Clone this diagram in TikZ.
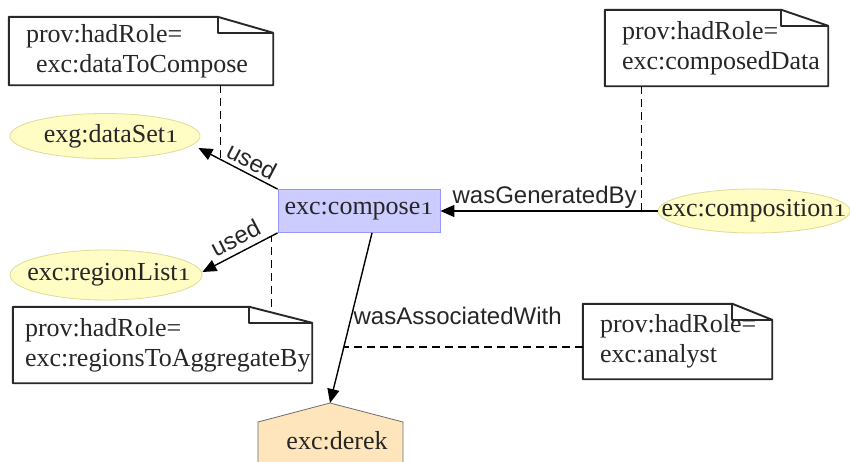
\documentclass[tikz,border=0pt]{standalone}
\usepackage{fontspec}
\setmainfont{Liberation Serif}
\newfontfamily\lblfont{Liberation Sans}
\usepackage{graphicx}
\usetikzlibrary{shapes.geometric,arrows.meta,calc}
\newcommand\osone{\scalebox{1}[0.68]{1}}
\definecolor{entfill}{RGB}{255,252,196}
\definecolor{entline}{RGB}{222,220,150}
\definecolor{actfill}{RGB}{204,204,255}
\definecolor{actline}{RGB}{150,150,255}
\definecolor{agfill}{RGB}{254,229,187}
\definecolor{agline}{RGB}{110,110,110}
\definecolor{notecol}{RGB}{40,40,40}
\begin{document}
\begin{tikzpicture}[x=1pt,y=-1pt,
  txt/.style={font=\fontsize{26}{30}\selectfont, text=black!85},
  ent/.style={ellipse, draw=entline, fill=entfill, line width=0.8pt, inner sep=0, txt},
  act/.style={rectangle, draw=actline, fill=actfill, line width=0.8pt, inner sep=0, txt, minimum width=162pt, minimum height=43pt},
  notebox/.style={rectangle, inner ysep=0, txt, align=left},
  noteline/.style={draw=notecol, line width=1.9pt, line join=round},
  rel/.style={draw=black, line width=1.4pt, -{Triangle[length=14pt,width=12pt]}},
  lab/.style={font=\lblfont\fontsize{24}{28}\selectfont, text=black!85, inner sep=1.5pt},
  link/.style={draw=black, line width=1.3pt, dash pattern=on 8pt off 5pt}]

\useasboundingbox (0,0) rectangle (850,461);

% notes
\node[notebox, minimum width=264pt, minimum height=68pt, inner xsep=17pt, text width=230pt] (n1) at (141,51)
  {\mbox{prov:hadRole=}\\\mbox{\hspace*{10pt}exc:dataToCompose}};
\node[notebox, minimum width=223pt, minimum height=76pt, inner xsep=17pt, text width=189pt] (n2) at (716.5,48)
  {\mbox{prov:hadRole=}\\\mbox{exc:composedData}};
\node[notebox, minimum width=299pt, minimum height=76pt, inner xsep=12pt, text width=275pt] (n3) at (162.5,345)
  {\mbox{prov:hadRole=}\\\mbox{exc:regionsToAggregateBy}};
\node[notebox, minimum width=189pt, minimum height=75pt, inner xsep=17pt, text width=155pt] (n4) at (677.5,341.5)
  {\mbox{prov:hadRole=}\\\mbox{exc:analyst}};
\foreach \n in {n1,n2,n3,n4}{
  \draw[noteline] (\n.north west) -- ($(\n.north west)!0.79!(\n.north east)$) coordinate (fold)
     -- ([yshift=-16pt]\n.north east) -- (\n.south east) -- (\n.south west) -- cycle;
  \draw[noteline] (fold) |- ([yshift=-16pt]\n.north east);
}

% entities and activity
\node[ent, minimum width=190pt, minimum height=45pt] (e1) at (105,136) {\makebox[0pt]{\hspace*{12pt}exg:dataSet\osone}};
\node[ent, minimum width=192pt, minimum height=50pt] (e2) at (106,275) {\makebox[0pt]{\hspace*{6pt}exc:regionList\osone}};
\node[ent, minimum width=192pt, minimum height=44pt] (e3) at (754,211) {\makebox[0pt]{exc:composition\osone}};
\node[act] (r) at (359,211) {exc:compose\osone};

% agent
\coordinate (dtop) at (330,403);
\filldraw[fill=agfill, draw=agline, line width=0.8pt] (258,475) -- (258,422) -- (dtop) -- (403,422) -- (403,475);
\node[txt] (derek) at (337,441) {exc:derek};

% relations
\draw[rel] (r.north west) -- node[lab, sloped, above=2pt, pos=0.40]{used} coordinate[pos=0.72] (c1) ([xshift=-2pt,yshift=-12pt]e1.east);
\draw[rel] (r.south west) -- node[lab, sloped, above=4pt, pos=0.47]{used} coordinate[pos=0.08] (c3) ([yshift=3pt]e2.east);
\draw[rel] (e3.west) -- node[lab, above, pos=0.52]{wasGeneratedBy} coordinate[pos=0.073] (c2) (r.east);
\draw[rel] ([xshift=13pt]r.south) -- node[lab, right, pos=0.49]{wasAssociatedWith} coordinate[pos=0.67] (c4) (dtop);

% role links
\draw[link] (c1 |- n1.south) -- (c1);
\draw[link] (c2 |- n2.south) -- (c2);
\draw[link] (c3 |- n3.north) -- (c3);
\draw[link] (n4.west |- c4) -- (c4);
\end{tikzpicture}
\end{document}
